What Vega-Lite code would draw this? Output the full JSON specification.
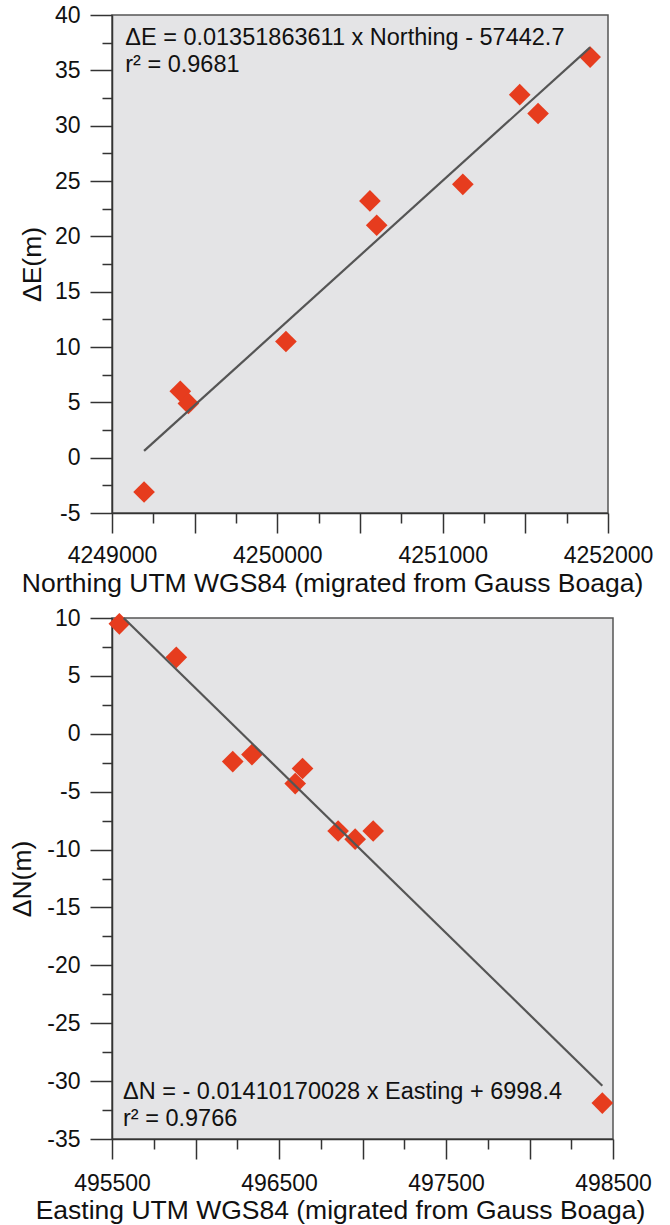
{
  "$schema": "https://vega.github.io/schema/vega-lite/v6.json",
  "background": "white",
  "padding": {"left": 9, "top": 3, "right": 0, "bottom": 0},
  "spacing": 8,
  "config": {
    "font": "Liberation Sans",
    "view": {"fill": "#e4e4e6", "stroke": "#555555", "strokeWidth": 1.5},
    "axis": {
      "labelFont": "Liberation Sans", "labelFontSize": 23, "labelColor": "#111111",
      "titleFont": "Liberation Sans", "titleFontSize": 26.5, "titleFontWeight": "normal", "titleColor": "#111111",
      "domainColor": "#333333", "tickColor": "#333333", "domainWidth": 1.5, "tickWidth": 1.5,
      "grid": false, "labelFlush": false, "labelOverlap": false, "labelBound": false
    }
  },
  "datasets": {
    "north": [
      {"northing": 4249194, "dE": -3.1},
      {"northing": 4249413, "dE": 6.0},
      {"northing": 4249462, "dE": 4.9},
      {"northing": 4250052, "dE": 10.5},
      {"northing": 4250560, "dE": 23.2},
      {"northing": 4250601, "dE": 21.0},
      {"northing": 4251122, "dE": 24.7},
      {"northing": 4251466, "dE": 32.8},
      {"northing": 4251577, "dE": 31.1},
      {"northing": 4251892, "dE": 36.2}
    ],
    "north_fit": [
      {"northing": 4249194, "dE": 0.61},
      {"northing": 4251892, "dE": 37.08}
    ],
    "east": [
      {"easting": 495544, "dN": 9.5},
      {"easting": 495885, "dN": 6.6},
      {"easting": 496223, "dN": -2.4},
      {"easting": 496338, "dN": -1.8},
      {"easting": 496597, "dN": -4.3},
      {"easting": 496641, "dN": -3.0},
      {"easting": 496854, "dN": -8.4},
      {"easting": 496956, "dN": -9.1},
      {"easting": 497064, "dN": -8.4},
      {"easting": 498436, "dN": -31.9}
    ],
    "east_fit": [
      {"easting": 495570, "dN": 10.0},
      {"easting": 498436, "dN": -30.4}
    ]
  },
  "vconcat": [
    {
      "width": 496,
      "height": 498,
      "layer": [
        {
          "data": {"name": "north"},
          "mark": {"type": "point", "shape": "diamond", "filled": true, "size": 470, "color": "#e63c1e", "opacity": 1},
          "encoding": {
            "x": {"field": "northing", "type": "quantitative",
              "scale": {"domain": [4249000, 4252000], "nice": false, "zero": false},
              "axis": {"orient": "bottom", "values": [4249000, 4249500, 4250000, 4250500, 4251000, 4251500, 4252000],
                "labelExpr": "datum.value % 1000 === 0 ? format(datum.value, 'd') : ''",
                "tickSize": 20, "labelPadding": 11, "title": "Northing UTM WGS84 (migrated from Gauss Boaga)",
                "titlePadding": 3, "titleX": 220}},
            "y": {"field": "dE", "type": "quantitative",
              "scale": {"domain": [-5, 40], "nice": false, "zero": false},
              "axis": {"orient": "left", "values": [-5, 0, 5, 10, 15, 20, 25, 30, 35, 40],
                "labelExpr": "datum.value < 0 ? '-' + format(-datum.value, 'd') : format(datum.value, 'd')",
                "tickSize": 22, "labelPadding": 10, "title": "ΔE(m)", "titlePadding": 8}}
          }
        },
        {
          "data": {"name": "north_fit"},
          "mark": {"type": "line", "color": "#555555", "strokeWidth": 2.2},
          "encoding": {
            "x": {"field": "northing", "type": "quantitative",
              "scale": {"domain": [4249000, 4252000], "nice": false, "zero": false},
              "axis": {"orient": "bottom", "values": [4249250, 4249750, 4250250, 4250750, 4251250, 4251750],
                "tickSize": 10, "labels": false, "domain": false, "title": null}},
            "y": {"field": "dE", "type": "quantitative",
              "scale": {"domain": [-5, 40], "nice": false, "zero": false},
              "axis": {"orient": "left", "values": [-2.5, 2.5, 7.5, 12.5, 17.5, 22.5, 27.5, 32.5, 37.5],
                "tickSize": 10, "labels": false, "domain": false, "title": null}}
          }
        },
        {
          "data": {"values": [{}]},
          "mark": {"type": "text", "text": "ΔE = 0.01351863611 x Northing - 57442.7", "align": "left", "baseline": "middle", "fontSize": 23.5, "color": "#111111", "font": "Liberation Sans"},
          "encoding": {
            "x": {"datum": 4249080, "type": "quantitative", "axis": null},
            "y": {"datum": 37.95, "type": "quantitative", "axis": null}
          }
        },
        {
          "data": {"values": [{}]},
          "mark": {"type": "text", "text": "r² = 0.9681", "align": "left", "baseline": "middle", "fontSize": 23.5, "color": "#111111", "font": "Liberation Sans"},
          "encoding": {
            "x": {"datum": 4249080, "type": "quantitative", "axis": null},
            "y": {"datum": 35.5, "type": "quantitative", "axis": null}
          }
        }
      ],
      "resolve": {"axis": {"x": "independent", "y": "independent"}}
    },
    {
      "width": 501,
      "height": 521,
      "layer": [
        {
          "data": {"name": "east"},
          "mark": {"type": "point", "shape": "diamond", "filled": true, "size": 470, "color": "#e63c1e", "opacity": 1},
          "encoding": {
            "x": {"field": "easting", "type": "quantitative",
              "scale": {"domain": [495500, 498500], "nice": false, "zero": false},
              "axis": {"orient": "bottom", "values": [495500, 496000, 496500, 497000, 497500, 498000, 498500],
                "labelExpr": "(datum.value - 495500) % 1000 === 0 ? format(datum.value, 'd') : ''",
                "tickSize": 20, "labelPadding": 13, "title": "Easting UTM WGS84 (migrated from Gauss Boaga)",
                "titlePadding": 2, "titleX": 228}},
            "y": {"field": "dN", "type": "quantitative",
              "scale": {"domain": [-35, 10], "nice": false, "zero": false},
              "axis": {"orient": "left", "values": [-35, -30, -25, -20, -15, -10, -5, 0, 5, 10],
                "labelExpr": "datum.value < 0 ? '-' + format(-datum.value, 'd') : format(datum.value, 'd')",
                "tickSize": 22, "labelPadding": 10, "title": "ΔN(m)", "titlePadding": 10}}
          }
        },
        {
          "data": {"name": "east_fit"},
          "mark": {"type": "line", "color": "#555555", "strokeWidth": 2.2},
          "encoding": {
            "x": {"field": "easting", "type": "quantitative",
              "scale": {"domain": [495500, 498500], "nice": false, "zero": false},
              "axis": {"orient": "bottom", "values": [495750, 496250, 496750, 497250, 497750, 498250],
                "tickSize": 10, "labels": false, "domain": false, "title": null}},
            "y": {"field": "dN", "type": "quantitative",
              "scale": {"domain": [-35, 10], "nice": false, "zero": false},
              "axis": {"orient": "left", "values": [-32.5, -27.5, -22.5, -17.5, -12.5, -7.5, -2.5, 2.5, 7.5],
                "tickSize": 10, "labels": false, "domain": false, "title": null}}
          }
        },
        {
          "data": {"values": [{}]},
          "mark": {"type": "text", "text": "ΔN = - 0.01410170028 x Easting + 6998.4", "align": "left", "baseline": "middle", "fontSize": 23.5, "color": "#111111", "font": "Liberation Sans"},
          "encoding": {
            "x": {"datum": 495566, "type": "quantitative", "axis": null},
            "y": {"datum": -30.9, "type": "quantitative", "axis": null}
          }
        },
        {
          "data": {"values": [{}]},
          "mark": {"type": "text", "text": "r² = 0.9766", "align": "left", "baseline": "middle", "fontSize": 23.5, "color": "#111111", "font": "Liberation Sans"},
          "encoding": {
            "x": {"datum": 495566, "type": "quantitative", "axis": null},
            "y": {"datum": -33.26, "type": "quantitative", "axis": null}
          }
        }
      ],
      "resolve": {"axis": {"x": "independent", "y": "independent"}}
    }
  ]
}
